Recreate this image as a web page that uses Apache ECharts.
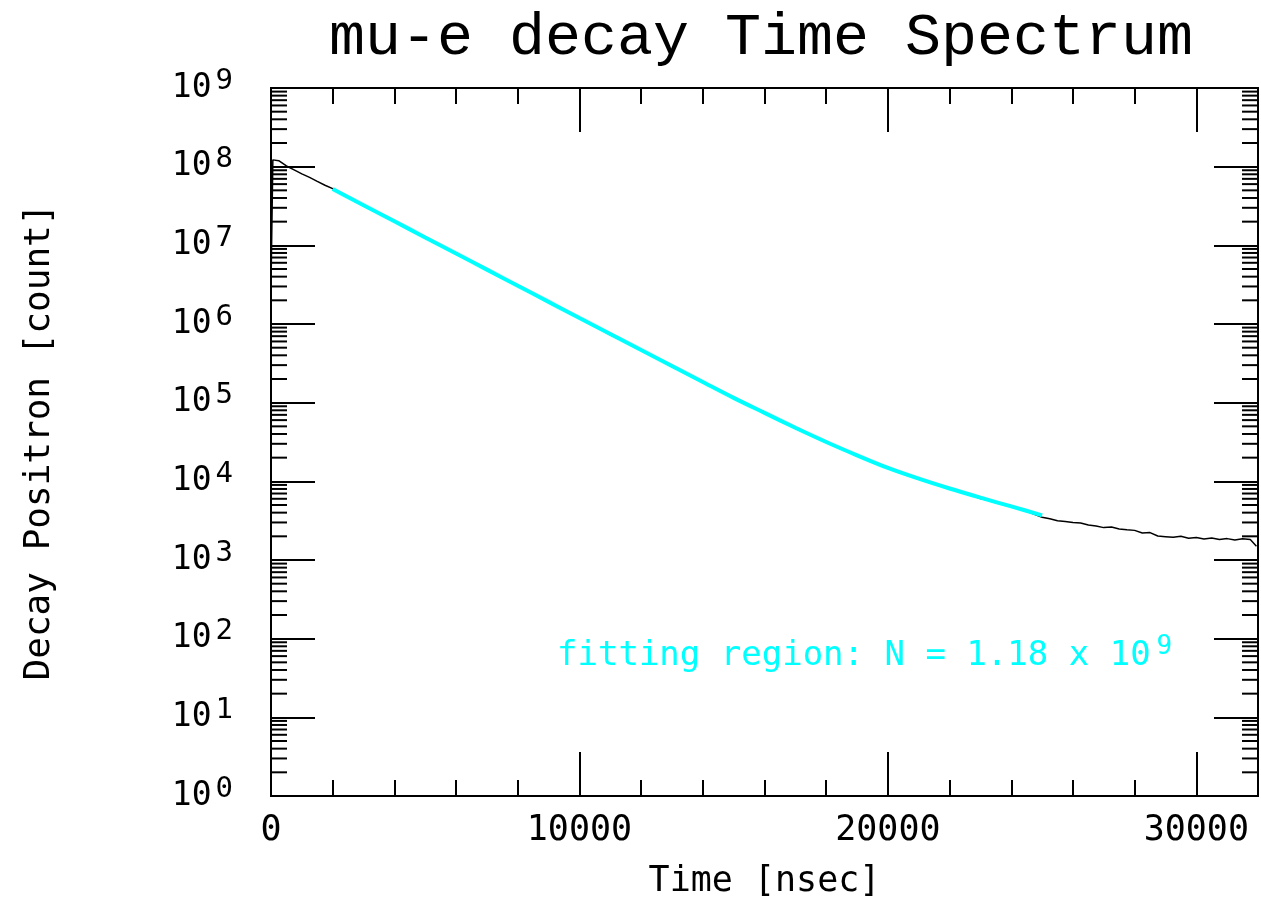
<!DOCTYPE html>
<html><head><meta charset="utf-8">
<script src="https://cdn.jsdelivr.net/npm/echarts@6/dist/echarts.min.js"></script>
<style>html,body{margin:0;padding:0;background:#fff}#c{width:1261px;height:904px}</style>
</head><body><div id="c"></div>
<script>
const titleText = 'mu-e decay Time Spectrum';
const xName = 'Time [nsec]';
const yName = 'Decay Positron [count]';
const annotationMain = 'fitting region: N = 1.18 x 10';
const annotationExp = '9';
const xMin = 0, xMax = 32000;
const yMinDecade = 0, yMaxDecade = 9;

// measured histogram (black)
const dataTimes = [0, 60, 250, 500, 750, 1000, 1250, 1500, 1750, 2000, 3000, 4000, 5000, 6000, 7000, 8000, 9000, 10000,
  11000, 12000, 13000, 14000, 15000, 16000, 17000, 18000, 19000, 20000, 21000, 22000, 23000, 24000, 24500, 25000,
  25250, 25500, 25750, 26000, 26250, 26500, 26750, 27000, 27250, 27500, 27750, 28000, 28250, 28500, 28750, 29000,
  29250, 29500, 29750, 30000, 30250, 30500, 30750, 31000, 31250, 31500, 31750, 31950];
const dataCounts = [3.0e6, 1.22e8, 1.19e8, 1.02e8, 9.1e7, 8.1e7, 7.3e7, 6.5e7, 5.8e7, 5.25e7, 3.18e7, 2.06e7, 1.24e7, 8.0e6, 4.85e6, 3.12e6, 1.88e6, 1.21e6,
  7.3e5, 4.75e5, 2.86e5, 1.87e5, 1.13e5, 7.6e4, 4.7e4, 3.22e4, 2.10e4, 1.51e4, 1.06e4, 8.3e3, 6.05e3, 4.9e3, 4.15e3, 3.5e3,
  3350, 3150, 3080, 3000, 2960, 2780, 2700, 2580, 2620, 2480, 2420, 2380, 2200, 2230, 2020, 1980,
  1940, 2000, 1890, 1930, 1850, 1900, 1820, 1870, 1800, 1860, 1820, 1500];

// fit curve (cyan)
const fitTimes = [2000, 3000, 4000, 5000, 6000, 7000, 8000, 9000, 10000, 11000, 12000, 13000, 14000, 15000,
  16000, 17000, 18000, 19000, 20000, 21000, 22000, 23000, 24000, 25000];
const fitCounts = [5.2e7, 3.24e7, 2.02e7, 1.26e7, 7.87e6, 4.91e6, 3.06e6, 1.91e6, 1.19e6, 7.45e5, 4.66e5, 2.92e5, 1.83e5, 1.15e5,
  7.41e4, 4.79e4, 3.16e4, 2.14e4, 1.48e4, 1.08e4, 8.1e3, 6.2e3, 4.8e3, 3.7e3];

const minorTickValues = [];
for (let d = yMinDecade; d < yMaxDecade; d++) {
  for (let k = 2; k <= 9; k++) minorTickValues.push([xMin, k * Math.pow(10, d)]);
}

const MONO = 'DejaVu Sans Mono';
const black = '#000';
const cyan = '#00ffff';

const chart = echarts.init(document.getElementById('c'));

function xAxisDef(pos, interval, len, withLabels) {
  const a = {
    type: 'value', position: pos, min: xMin, max: xMax, interval: interval,
    axisLine: { show: true, onZero: false, lineStyle: { color: black, width: 2 } },
    axisTick: { inside: true, length: len, lineStyle: { color: black, width: 2 } },
    axisLabel: { show: false },
    splitLine: { show: false }
  };
  if (withLabels) {
    a.axisLabel = {
      show: true, fontFamily: MONO, fontSize: 35, color: black, margin: 17,
      formatter: v => (v % 10000 === 0 ? String(v) : '')
    };
    a.name = xName;
    a.nameLocation = 'middle';
    a.nameGap = 68;
    a.nameTextStyle = { fontFamily: MONO, fontSize: 35, color: black };
  }
  return a;
}

function yAxisDef(pos, withLabels) {
  const a = {
    type: 'log', logBase: 10, position: pos,
    min: Math.pow(10, yMinDecade), max: Math.pow(10, yMaxDecade),
    axisLine: { show: true, onZero: false, lineStyle: { color: black, width: 2 } },
    axisTick: { inside: true, length: 44, lineStyle: { color: black, width: 2 } },
    axisLabel: { show: false },
    splitLine: { show: false }
  };
  if (withLabels) {
    a.axisLabel = {
      show: true, margin: 38, color: black,
      formatter: v => '{b|10}{s|' + Math.round(Math.log10(v)) + '}',
      rich: {
        b: { fontFamily: MONO, fontSize: 33, color: black },
        s: { fontFamily: MONO, fontSize: 29, color: black, padding: [0, 0, 14, 4] }
      }
    };
    a.name = yName;
    a.nameLocation = 'middle';
    a.nameGap = 213;
    a.nameTextStyle = { fontFamily: MONO, fontSize: 36, color: black };
  }
  return a;
}

chart.setOption({
  backgroundColor: '#fff',
  animation: false,
  grid: { left: 271, top: 88, right: 3, bottom: 108, containLabel: false, outerBoundsMode: 'none' },
  xAxis: [
    xAxisDef('bottom', 10000, 44, true),
    xAxisDef('bottom', 2000, 16, false),
    xAxisDef('top', 10000, 44, false),
    xAxisDef('top', 2000, 16, false)
  ],
  yAxis: [yAxisDef('left', true), yAxisDef('right', false)],
  graphic: [
    { type: 'text', x: 761, y: 38, style: { text: titleText, font: 'normal 60px "Liberation Mono"', fill: black, align: 'center', verticalAlign: 'middle' } },
    { type: 'text', x: 557, y: 656, style: {
      text: '{m|' + annotationMain + '}{s|' + annotationExp + '}',
      verticalAlign: 'middle', align: 'left',
      rich: {
        m: { fontFamily: MONO, fontSize: 34, fill: cyan, color: cyan },
        s: { fontFamily: MONO, fontSize: 26, fill: cyan, color: cyan, padding: [0, 0, 18, 6] }
      }
    } }
  ],
  series: [
    {
      type: 'custom', xAxisIndex: 0, yAxisIndex: 0, silent: true, z: 5,
      data: minorTickValues,
      renderItem: function (params, api) {
        const v = api.value(1);
        const pl = api.coord([xMin, v]);
        const pr = api.coord([xMax, v]);
        return {
          type: 'group', children: [
            { type: 'line', shape: { x1: pl[0], y1: pl[1], x2: pl[0] + 16, y2: pl[1] }, style: { stroke: black, lineWidth: 2 } },
            { type: 'line', shape: { x1: pr[0] - 16, y1: pr[1], x2: pr[0], y2: pr[1] }, style: { stroke: black, lineWidth: 2 } }
          ]
        };
      }
    },
    {
      type: 'line', xAxisIndex: 0, yAxisIndex: 0, showSymbol: false, z: 2,
      data: dataTimes.map((t, i) => [t, dataCounts[i]]),
      lineStyle: { color: black, width: 1.5 }
    },
    {
      type: 'line', xAxisIndex: 0, yAxisIndex: 0, showSymbol: false, z: 3, smooth: 0.3,
      data: fitTimes.map((t, i) => [t, fitCounts[i]]),
      lineStyle: { color: cyan, width: 4 }
    }
  ]
});
</script></body></html>
